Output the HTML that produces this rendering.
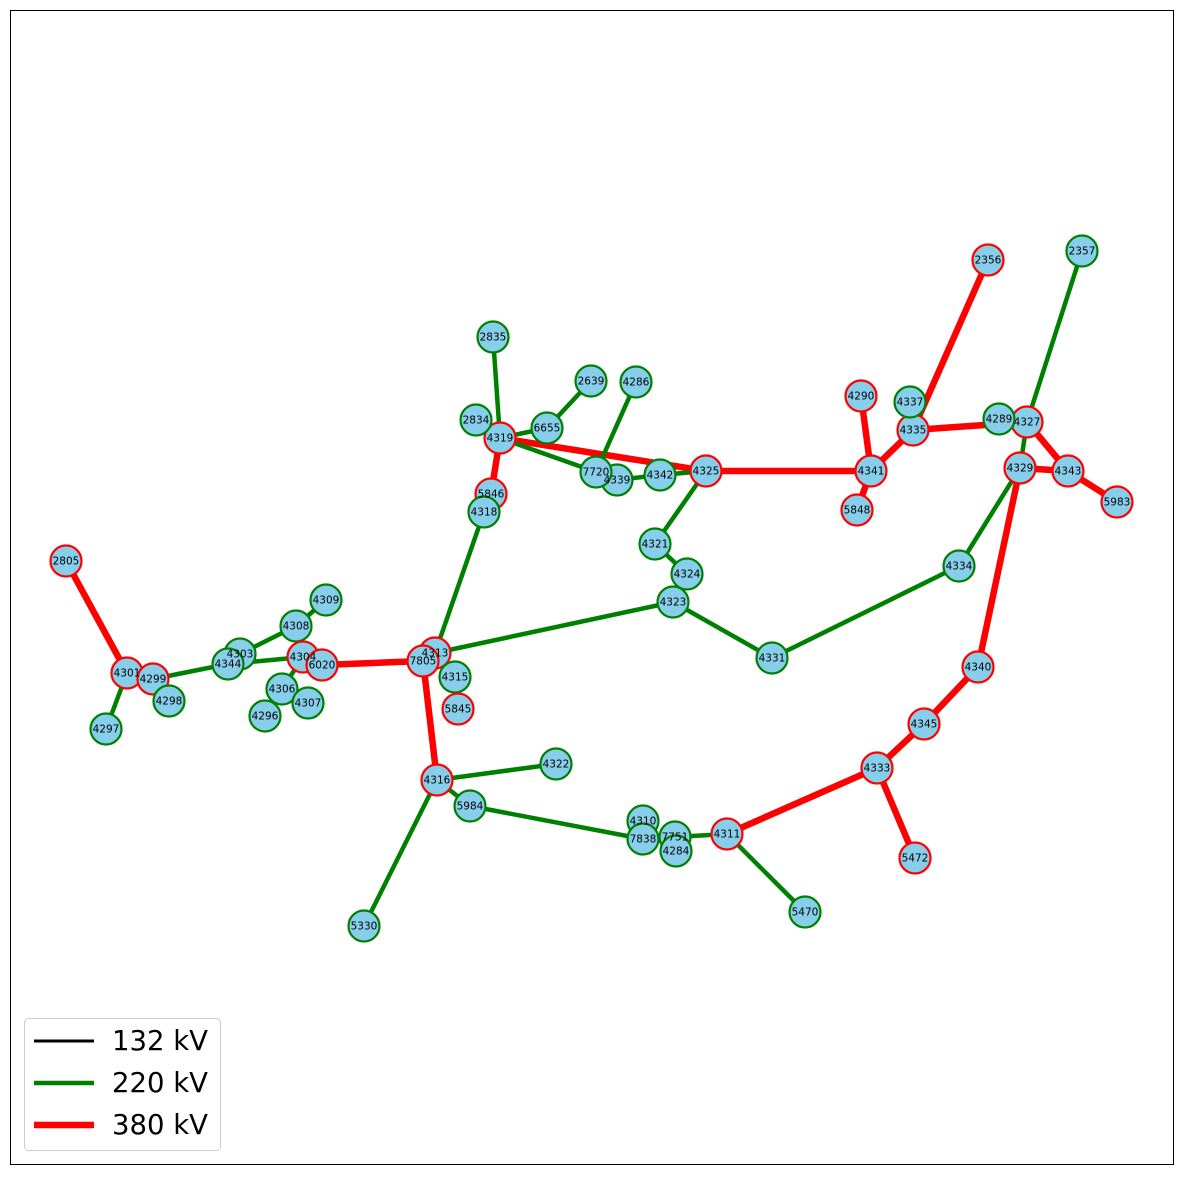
<!DOCTYPE html>
<html><head><meta charset="utf-8"><style>
body{margin:0;background:#fff;font-family:"Liberation Sans","DejaVu Sans",sans-serif}
svg text{font-family:"DejaVu Sans","Liberation Sans",sans-serif}
</style></head><body>
<svg id="chart" width="1182" height="1175">
<rect x="10.5" y="10.5" width="1163" height="1154" fill="none" stroke="#000" stroke-width="1"/>
<g id="edges"></g><g id="nodes"></g><g id="labels"></g>
<g>
<rect x="24.5" y="1018.5" width="196" height="132" rx="4" fill="#fff" stroke="#ccc"/>
<line x1="34" y1="1041" x2="94" y2="1041" stroke="#000" stroke-width="3"/>
<text x="112" y="1050" font-size="27.5">132 kV</text>
<line x1="34" y1="1083" x2="94" y2="1083" stroke="green" stroke-width="4.5"/>
<text x="112" y="1092" font-size="27.5">220 kV</text>
<line x1="34" y1="1125" x2="94" y2="1125" stroke="red" stroke-width="6.5"/>
<text x="112" y="1134" font-size="27.5">380 kV</text>
</g>
</svg>
<script>
const nodeIds=["2805","4301","4299","4298","4297","4303","4344","4308","4309","4304","6020","4306","4307","4296","4313","7805","4315","5845","4316","4322","5984","5330","4310","7838","7751","4284","4311","5470","4333","5472","4345","4340","4334","4329","4343","5983","4327","4289","2357","2356","4335","4337","4290","4341","5848","4325","4342","4339","7720","4286","2639","6655","4319","2834","2835","5846","4318","4321","4324","4323","4331"];
const nodeX=[66,127,153,169,106,240,228,296,326,303,322,282,308,265,435,423,455,458,437,556,470,364,643,643,675,676,727,805,877,915,924,978,959,1020,1068,1117,1027,999,1082,988,913,910,861,871,857,706,660,617,596,636,591,547,500,476,493,491,484,655,687,673,772];
const nodeY=[561,673,679,701,729,654,664,626,600,657,665,689,703,716,653,661,677,709,780,764,806,926,821,839,837,851,834,912,768,858,724,667,566,468,471,502,422,419,251,260,430,402,396,471,510,471,475,480,472,382,381,428,438,420,337,494,512,544,574,602,658];
const nodeKv=[380,380,380,220,220,220,220,220,220,380,380,220,220,220,380,380,220,380,380,220,220,220,220,220,220,220,380,220,380,380,380,380,220,380,380,380,380,220,220,380,380,220,380,380,380,380,220,220,220,220,220,220,380,220,220,380,220,220,220,220,220];
const edgeFrom=["2805","4301","4304","6020","7805","4319","4319","4325","4341","4341","4341","4335","4335","4327","4329","4343","4329","4340","4345","4333","4333","4301","4299","4344","4303","4308","4344","4304","4306","4306","4313","4313","4313","4316","4316","4316","5984","7838","7751","4311","4323","4331","4334","4329","4327","4323","4324","4321","4325","4342","7720","7720","4319","6655","4319","4299"];
const edgeTo=["4301","4299","6020","7805","4316","5846","4325","4341","4290","5848","4335","2356","4327","4343","4343","5983","4340","4345","4333","5472","4311","4297","4344","4303","4308","4309","4304","4306","4307","4296","4318","4323","4315","4322","5984","5330","7838","7751","4311","5470","4331","4334","4329","4327","2357","4324","4321","4325","4342","4339","4319","4286","6655","2639","2835","4298"];
const edgeKv=[380,380,380,380,380,380,380,380,380,380,380,380,380,380,380,380,380,380,380,380,380,220,220,220,220,220,220,220,220,220,220,220,220,220,220,220,220,220,220,220,220,220,220,220,220,220,220,220,220,220,220,220,220,220,220,220];
const NS="http://www.w3.org/2000/svg";
const col=k=>k===380?"red":(k===220?"green":"black");
const wid=k=>k===380?6.5:(k===220?4.5:3);
const idx=id=>nodeIds.indexOf(id);
const eg=document.getElementById("edges"),ng=document.getElementById("nodes"),lg=document.getElementById("labels");
for(let i=0;i<edgeFrom.length;i++){
 const a=idx(edgeFrom[i]),b=idx(edgeTo[i]);
 const l=document.createElementNS(NS,"line");
 l.setAttribute("x1",nodeX[a]);l.setAttribute("y1",nodeY[a]);
 l.setAttribute("x2",nodeX[b]);l.setAttribute("y2",nodeY[b]);
 l.setAttribute("stroke",col(edgeKv[i]));l.setAttribute("stroke-width",wid(edgeKv[i]));
 
 
 eg.appendChild(l);
}
for(let i=0;i<nodeIds.length;i++){
 const c=document.createElementNS(NS,"circle");
 c.setAttribute("cx",nodeX[i]);c.setAttribute("cy",nodeY[i]);c.setAttribute("r",15.5);
 c.setAttribute("fill","#87ceeb");c.setAttribute("stroke",col(nodeKv[i]));c.setAttribute("stroke-width",2.2);
 
 
 ng.appendChild(c);
 const t=document.createElementNS(NS,"text");
 t.setAttribute("x",nodeX[i]);t.setAttribute("y",nodeY[i]+3.5);t.setAttribute("text-anchor","middle");
 t.setAttribute("font-size","10.5");t.textContent=nodeIds[i];
 
 
 lg.appendChild(t);
}
</script>
</body></html>
